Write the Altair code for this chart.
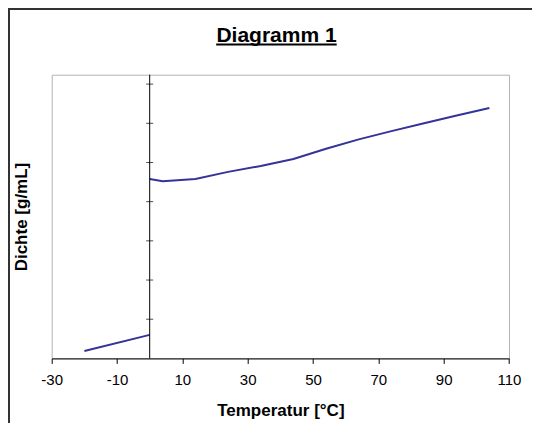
import altair as alt
import pandas as pd

# ---- data ----
ice_temp = [-20, 0]
ice_val = [0.19, 0.60]
water_temp = [0, 4, 14, 24, 34, 44, 54, 64, 74, 84, 94, 104]
water_val = [4.58, 4.52, 4.58, 4.76, 4.91, 5.09, 5.35, 5.59, 5.80, 6.00, 6.20, 6.39]
x_ticks = [-30, -10, 10, 30, 50, 70, 90, 110]
y_ticks = [1, 2, 3, 4, 5, 6, 7]
x_domain = [-30, 110]
y_domain = [0, 7.24]

FONT = "Liberation Sans"
LINE_COLOR = "#333399"

df = pd.concat([
    pd.DataFrame({"temp": ice_temp, "val": ice_val, "phase": "Eis"}),
    pd.DataFrame({"temp": water_temp, "val": water_val, "phase": "Wasser"}),
])

W, H = 457.3, 283.7

xs = alt.Scale(domain=x_domain, nice=False, zero=False)
ys = alt.Scale(domain=y_domain, nice=False, zero=False)

x_axis = alt.Axis(
    values=x_ticks, title="Temperatur [°C]", grid=False,
    labelExpr="'' + datum.value",
    titleFont=FONT, titleFontSize=17, titleFontWeight="bold", titleColor="black",
    titleBaseline="alphabetic", titleY=56.6,
    labelFont=FONT, labelFontSize=15, labelColor="black", labelPadding=9,
    labelFlush=False, labelOverlap=False,
    tickSize=5, tickColor="black", domainColor="black", domainWidth=1)
y_axis = alt.Axis(
    title="Dichte [g/mL]", labels=False, ticks=False, domain=False, grid=False,
    titleFont=FONT, titleFontSize=17, titleFontWeight="bold", titleColor="black",
    titleAngle=270, titleAlign="center", titleBaseline="middle",
    titleX=-30.4, titleY=H / 2)

line = alt.Chart(df).mark_line(color=LINE_COLOR, strokeWidth=2).encode(
    x=alt.X("temp:Q", scale=xs, axis=x_axis),
    y=alt.Y("val:Q", scale=ys, axis=y_axis),
    detail="phase:N",
)

vaxis = alt.Chart(pd.DataFrame({"temp": [0]})).mark_rule(color="black", strokeWidth=1).encode(
    x=alt.X("temp:Q", scale=xs, axis=x_axis)
)

yticks_df = pd.DataFrame({"temp": [0] * len(y_ticks), "val": y_ticks})
yticks = alt.Chart(yticks_df).mark_tick(orient="horizontal", size=7, thickness=1, color="black").encode(
    x=alt.X("temp:Q", scale=xs, axis=x_axis),
    y=alt.Y("val:Q", scale=ys, axis=y_axis),
)

one = pd.DataFrame({"a": [0]})
title = alt.Chart(one).mark_text(
    text="Diagramm 1", font=FONT, fontSize=21, fontWeight="bold", color="black",
    align="center", baseline="alphabetic"
).encode(x=alt.value(224.8), y=alt.value(-33))

underline = alt.Chart(one).mark_rule(color="black", strokeWidth=2).encode(
    x=alt.value(164.5), x2=alt.value(285), y=alt.value(-30.3)
)

frame_left = alt.Chart(one).mark_rule(color="#333333", strokeWidth=2).encode(
    x=alt.value(-42.7), y=alt.value(-65.7), y2=alt.value(350)
)
frame_top = alt.Chart(one).mark_rule(color="#333333", strokeWidth=2).encode(
    x=alt.value(-43.7), x2=alt.value(480.3), y=alt.value(-65.7)
)

chart = alt.layer(line, vaxis, yticks, title, underline, frame_left, frame_top).properties(
    width=W, height=H,
    autosize=alt.AutoSizeParams(type="none"),
    padding={"left": 43.7, "top": 66.7, "right": 23, "bottom": 64.6},
    background="white",
).configure_view(stroke="#b3b3b3", strokeWidth=1)

chart.save("out.html", embed_options={"renderer": "svg", "actions": False})
